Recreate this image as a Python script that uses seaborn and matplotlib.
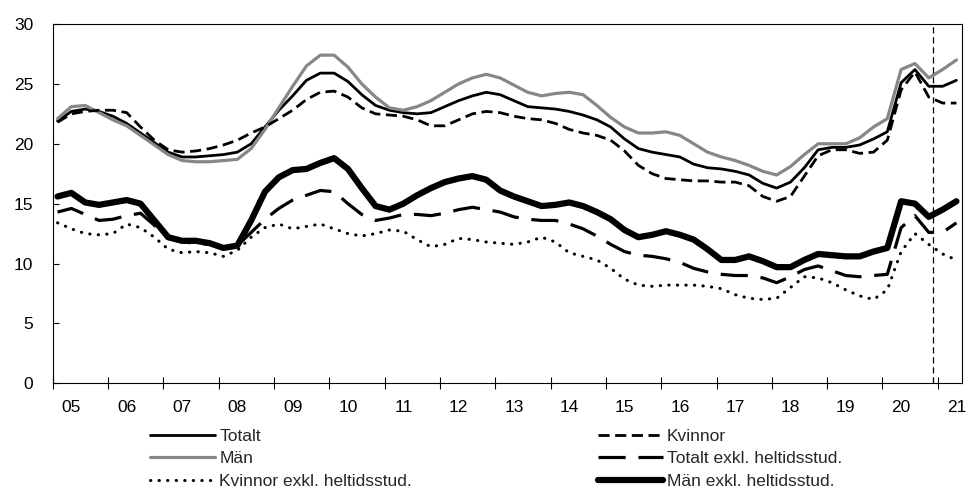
import numpy as np
import pandas as pd
import matplotlib
matplotlib.use('Agg')
import matplotlib.pyplot as plt
import seaborn as sns

# quarterly data 2005Q1 - 2021Q2
quarters = pd.period_range('2005Q1', '2021Q2', freq='Q')
year_labels = ['05', '06', '07', '08', '09', '10', '11', '12', '13',
               '14', '15', '16', '17', '18', '19', '20', '21']

totalt = [21.9, 22.7, 22.9, 22.7, 22.3, 21.7, 20.9, 20.1, 19.3, 18.9, 18.9, 19.0,
          19.1, 19.3, 20.0, 21.4, 22.8, 24.0, 25.3, 25.9, 25.9, 25.2, 24.1, 23.2,
          22.8, 22.6, 22.5, 22.6, 23.1, 23.6, 24.0, 24.3, 24.1, 23.6, 23.1, 23.0,
          22.9, 22.7, 22.4, 22.0, 21.4, 20.4, 19.6, 19.3, 19.1, 18.9, 18.3, 18.0,
          17.9, 17.7, 17.4, 16.7, 16.3, 16.8, 18.0, 19.5, 19.7, 19.7, 19.9, 20.4,
          21.0, 25.1, 26.2, 24.8, 24.8, 25.3]
man = [22.1, 23.1, 23.2, 22.6, 22.0, 21.5, 20.7, 19.9, 19.1, 18.6, 18.5, 18.5,
       18.6, 18.7, 19.6, 21.2, 23.0, 24.8, 26.5, 27.4, 27.4, 26.4, 25.0, 23.9,
       23.0, 22.8, 23.1, 23.6, 24.3, 25.0, 25.5, 25.8, 25.5, 24.9, 24.3, 24.0,
       24.2, 24.3, 24.1, 23.2, 22.2, 21.4, 20.9, 20.9, 21.0, 20.7, 20.0, 19.3,
       18.9, 18.6, 18.2, 17.7, 17.4, 18.1, 19.1, 20.0, 20.0, 20.0, 20.5, 21.4,
       22.1, 26.2, 26.7, 25.5, 26.2, 27.0]
kvinnor = [21.8, 22.5, 22.7, 22.8, 22.8, 22.6, 21.4, 20.3, 19.5, 19.3, 19.4, 19.6,
           19.9, 20.3, 20.9, 21.4, 22.1, 22.8, 23.7, 24.3, 24.4, 23.9, 23.0, 22.5,
           22.4, 22.3, 22.0, 21.5, 21.5, 22.0, 22.5, 22.7, 22.6, 22.3, 22.1, 22.0,
           21.7, 21.2, 20.9, 20.7, 20.3, 19.4, 18.2, 17.5, 17.1, 17.0, 16.9, 16.9,
           16.8, 16.8, 16.5, 15.6, 15.2, 15.6, 17.3, 19.0, 19.5, 19.5, 19.2, 19.3,
           20.3, 24.5, 26.0, 23.9, 23.4, 23.4]
totalt_exkl = [14.3, 14.6, 14.1, 13.6, 13.7, 14.0, 14.2, 13.2, 12.1, 11.8, 11.7, 11.6,
               11.3, 11.5, 12.6, 13.7, 14.6, 15.3, 15.7, 16.1, 16.0, 15.0, 14.1, 13.6,
               13.8, 14.1, 14.1, 14.0, 14.2, 14.5, 14.7, 14.5, 14.3, 13.9, 13.7, 13.6,
               13.6, 13.3, 12.9, 12.3, 11.6, 11.0, 10.7, 10.6, 10.4, 10.1, 9.6, 9.3,
               9.1, 9.0, 9.0, 8.8, 8.4, 8.9, 9.5, 9.8, 9.4, 9.0, 8.9, 9.0,
               9.1, 13.0, 14.0, 12.6, 12.6, 13.4]
kvinnor_exkl = [13.4, 12.9, 12.5, 12.4, 12.5, 13.3, 13.0, 12.2, 11.2, 10.9, 11.0, 10.9,
                10.6, 11.1, 12.2, 13.0, 13.3, 12.9, 13.1, 13.3, 12.9, 12.5, 12.3, 12.5,
                12.8, 12.7, 12.0, 11.4, 11.6, 12.1, 12.0, 11.8, 11.7, 11.6, 11.8, 12.2,
                11.8, 10.9, 10.6, 10.3, 9.6, 8.7, 8.2, 8.1, 8.2, 8.2, 8.2, 8.1,
                7.9, 7.4, 7.1, 7.0, 7.1, 8.0, 8.9, 8.8, 8.4, 7.8, 7.3, 7.0,
                7.8, 11.0, 12.5, 11.6, 10.8, 10.3]
man_exkl = [15.6, 15.9, 15.1, 14.9, 15.1, 15.3, 15.0, 13.6, 12.2, 11.9, 11.9, 11.7,
            11.3, 11.5, 13.6, 16.0, 17.2, 17.8, 17.9, 18.4, 18.8, 17.9, 16.3, 14.8,
            14.5, 15.0, 15.7, 16.3, 16.8, 17.1, 17.3, 17.0, 16.1, 15.6, 15.2, 14.8,
            14.9, 15.1, 14.8, 14.3, 13.7, 12.8, 12.2, 12.4, 12.7, 12.4, 12.0, 11.2,
            10.3, 10.3, 10.6, 10.2, 9.7, 9.7, 10.3, 10.8, 10.7, 10.6, 10.6, 11.0,
            11.3, 15.2, 15.0, 13.9, 14.5, 15.2]

# forecast marker (2020Q4)
marker_quarter = '2020Q4'

df = pd.DataFrame({
    'q': np.arange(len(quarters)),
    'Totalt': totalt,
    'Män': man,
    'Kvinnor': kvinnor,
    'Totalt exkl. heltidsstud.': totalt_exkl,
    'Kvinnor exkl. heltidsstud.': kvinnor_exkl,
    'Män exkl. heltidsstud.': man_exkl,
})

sns.set_theme(style='white')
plt.rcParams['font.family'] = ['Liberation Sans', 'DejaVu Sans']

fig = plt.figure(figsize=(9.67, 4.91), dpi=100)
ax = fig.add_axes([0.0545, 0.2193, 0.9403, 0.7318])

styles = {
    'Totalt': dict(color='black', linewidth=2.0, linestyle='-'),
    'Män': dict(color='#878787', linewidth=2.3, linestyle='-'),
    'Kvinnor': dict(color='black', linewidth=2.0, linestyle=(0, (4, 2))),
    'Totalt exkl. heltidsstud.': dict(color='black', linewidth=2.3, linestyle=(0, (8.5, 4))),
    'Kvinnor exkl. heltidsstud.': dict(color='black', linewidth=2.2, linestyle=(0, (0.1, 2.7)),
                                       dash_capstyle='round'),
    'Män exkl. heltidsstud.': dict(color='black', linewidth=4.5, linestyle='-'),
}

handles = {}
for name, kw in styles.items():
    sns.lineplot(data=df, x='q', y=name, ax=ax, errorbar=None, **kw)
    handles[name] = ax.lines[-1]
if ax.get_legend():
    ax.get_legend().remove()

vq = list(quarters.astype(str)).index(marker_quarter) + 0.3
ax.axvline(vq, color='black', linewidth=0.9, linestyle=(0, (5, 3)))

ax.set_xlim(-0.35, 65.4)
ax.set_ylim(0, 30)
ax.set_yticks(range(0, 31, 5))
ax.set_xlabel('')
ax.set_ylabel('')

# year boundaries as major ticks, labels on minor ticks
ax.set_xticks([4 * k - 0.35 for k in range(len(year_labels))])
ax.set_xticklabels([])
ax.set_xticks([4 * k + 1.0 for k in range(len(year_labels))], minor=True)
ax.set_xticklabels(year_labels, minor=True)
ax.tick_params(axis='x', which='major', direction='inout', length=8.5, width=0.8,
               color='black', bottom=True)
ax.tick_params(axis='x', which='minor', length=0, pad=12, labelsize=12.5,
               labelcolor='black', bottom=True)
ax.tick_params(axis='y', direction='in', length=4, width=0.8, pad=14, labelsize=12.5,
               labelcolor='black', color='black', left=True)
for sp in ax.spines.values():
    sp.set_color('black')
    sp.set_linewidth(0.8)

leg_kw = dict(loc='upper left', frameon=False, handlelength=3.75, handletextpad=0.25,
              labelspacing=0.42, borderpad=0, borderaxespad=0, fontsize=12.5)
col1 = ['Totalt', 'Män', 'Kvinnor exkl. heltidsstud.']
col2 = ['Kvinnor', 'Totalt exkl. heltidsstud.', 'Män exkl. heltidsstud.']
fig.legend([handles[n] for n in col1], col1, bbox_to_anchor=(0.155, 0.127), **leg_kw)
fig.legend([handles[n] for n in col2], col2, bbox_to_anchor=(0.618, 0.127), **leg_kw)

fig.savefig('out.png', dpi=100)
